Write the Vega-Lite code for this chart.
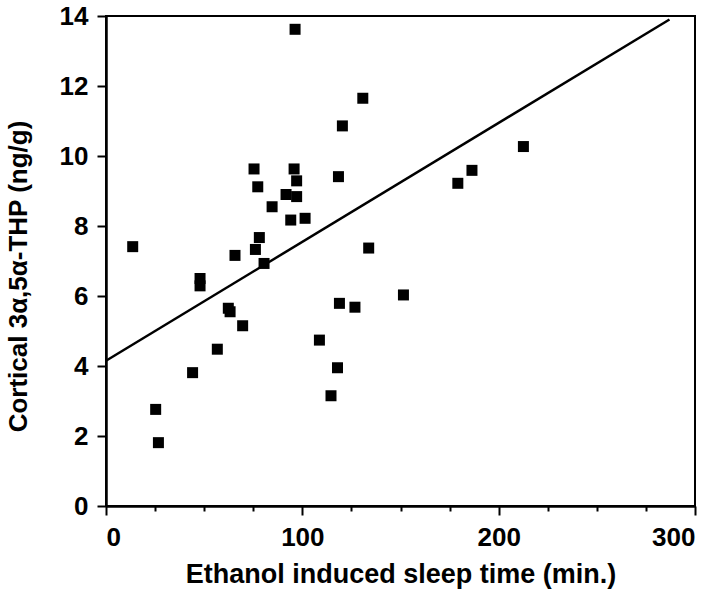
{
  "$schema": "https://vega.github.io/schema/vega-lite/v6.json",
  "autosize": {"type": "none"},
  "width": 589,
  "height": 490,
  "padding": {"left": 106, "top": 16, "right": 25, "bottom": 92},
  "background": "white",
  "config": {
    "view": {"stroke": "black", "strokeWidth": 2},
    "axis": {
      "domainColor": "black", "domainWidth": 2.5, "tickColor": "black", "tickWidth": 2,
      "labelFont": "Liberation Sans", "labelFontWeight": "bold", "labelFontSize": 26, "labelColor": "black",
      "titleFont": "Liberation Sans", "titleFontWeight": "bold", "titleFontSize": 27, "titleColor": "black",
      "grid": false
    }
  },
  "datasets": {
    "pts": [
      {"x": 13.6, "y": 7.41}, {"x": 96.3, "y": 13.62}, {"x": 75.4, "y": 9.63}, {"x": 77.3, "y": 9.12},
      {"x": 95.8, "y": 9.63}, {"x": 97.1, "y": 9.29}, {"x": 91.7, "y": 8.9}, {"x": 97.1, "y": 8.84},
      {"x": 84.6, "y": 8.55}, {"x": 94.1, "y": 8.17}, {"x": 101.4, "y": 8.22}, {"x": 78.1, "y": 7.67},
      {"x": 76.1, "y": 7.33}, {"x": 65.7, "y": 7.16}, {"x": 80.5, "y": 6.93}, {"x": 47.9, "y": 6.5},
      {"x": 47.9, "y": 6.29}, {"x": 118.4, "y": 9.41}, {"x": 120.4, "y": 10.86}, {"x": 130.8, "y": 11.65},
      {"x": 212.6, "y": 10.27}, {"x": 186.4, "y": 9.59}, {"x": 179.2, "y": 9.22}, {"x": 133.8, "y": 7.37},
      {"x": 151.5, "y": 6.03}, {"x": 62.3, "y": 5.65}, {"x": 63.2, "y": 5.55}, {"x": 69.6, "y": 5.15},
      {"x": 56.7, "y": 4.48}, {"x": 44.1, "y": 3.81}, {"x": 25.3, "y": 2.76}, {"x": 26.7, "y": 1.81},
      {"x": 108.7, "y": 4.74}, {"x": 117.9, "y": 3.95}, {"x": 114.6, "y": 3.15}, {"x": 118.9, "y": 5.79},
      {"x": 126.8, "y": 5.68}
    ],
    "fit": [{"x": 0, "y": 4.15}, {"x": 287, "y": 13.9}]
  },
  "layer": [
    {
      "data": {"name": "pts"},
      "mark": {"type": "square", "size": 121, "color": "black", "opacity": 1, "filled": true},
      "encoding": {
        "x": {"field": "x", "type": "quantitative", "scale": {"domain": [0, 300], "nice": false},
              "axis": {"values": [0, 25, 50, 75, 100, 125, 150, 175, 200, 225, 250, 275, 300],
                       "labelExpr": "datum.value % 100 === 0 ? datum.label : ''",
                       "tickSize": {"condition": {"test": "datum.value % 100 === 0", "value": 9}, "value": 5},
                       "labelPadding": 9, "title": "Ethanol induced sleep time (min.)",
                       "titleBaseline": "alphabetic", "titleY": 76}},
        "y": {"field": "y", "type": "quantitative", "scale": {"domain": [0, 14], "nice": false},
              "axis": {"values": [0,1,2,3,4,5,6,7,8,9,10,11,12,13,14],
                       "labelExpr": "datum.value % 2 === 0 ? datum.label : ''",
                       "tickSize": {"condition": {"test": "datum.value % 2 === 0", "value": 9}, "value": 5},
                       "labelPadding": 9, "title": "Cortical 3α,5α-THP (ng/g)",
                       "titleFontSize": 26, "titleBaseline": "alphabetic", "titleX": -80, "titleY": 260}}
      }
    },
    {
      "data": {"name": "fit"},
      "mark": {"type": "line", "color": "black", "strokeWidth": 2.5},
      "encoding": {
        "x": {"field": "x", "type": "quantitative"},
        "y": {"field": "y", "type": "quantitative"}
      }
    }
  ]
}
